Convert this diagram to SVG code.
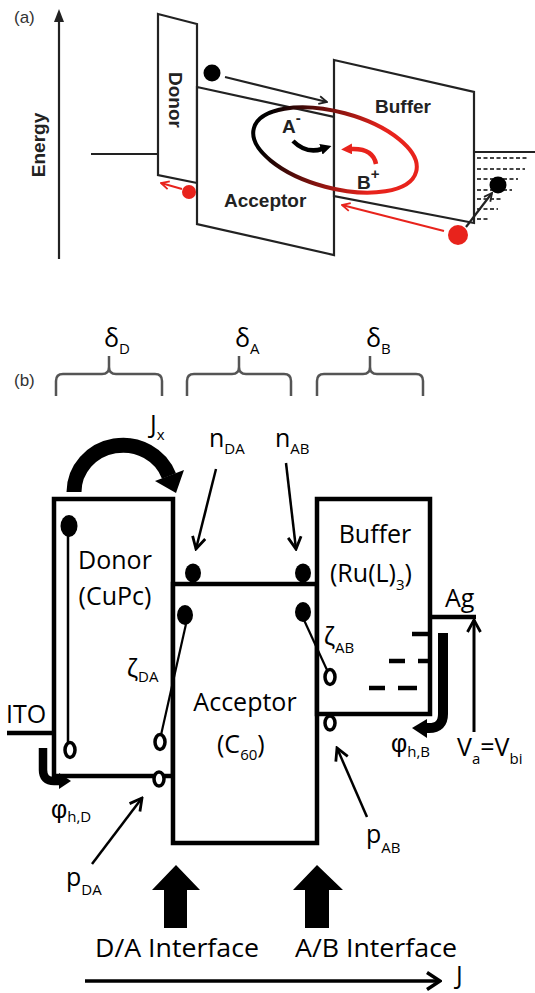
<svg xmlns="http://www.w3.org/2000/svg" width="535" height="993" viewBox="0 0 535 993">
<defs>
<style>
.pl{font-family:"Liberation Sans",Arial,sans-serif;font-size:17px;fill:#333;}
.ab{font-family:"Liberation Sans",Arial,sans-serif;font-weight:bold;font-size:19px;fill:#222;}
.lab{font-family:"Open Sans","Liberation Sans",sans-serif;font-size:25px;fill:#000;}
.gr{font-family:"Liberation Sans","DejaVu Sans",sans-serif;font-size:25px;fill:#000;}
.sub{font-family:"Open Sans","Liberation Sans",sans-serif;font-size:15px;}
.pa{fill:#fff;stroke:#222;stroke-width:2.2;stroke-linejoin:miter;}
.box{fill:#fff;stroke:#000;stroke-width:4.5;}
.thin{stroke:#000;stroke-width:2.5;fill:none;}
.la{stroke:#222;stroke-width:2.2;fill:none;}
.brace{fill:none;stroke:#555;stroke-width:2.5;}
.e{fill:#000;}
.h{fill:#fff;stroke:#000;stroke-width:3.5;}
.dash{stroke:#444;stroke-width:2;stroke-dasharray:4 2.5;}
.bd{stroke:#000;stroke-width:4.5;}
.thick{fill:none;stroke:#000;}
</style>
<linearGradient id="ringGrad" gradientUnits="userSpaceOnUse" x1="262" y1="0" x2="378" y2="0">
<stop offset="0" stop-color="#000"/>
<stop offset="0.45" stop-color="#6e100c"/>
<stop offset="1" stop-color="#e8231c"/>
</linearGradient>
<marker id="vBlk" markerUnits="userSpaceOnUse" viewBox="0 0 16 16" markerWidth="16" markerHeight="16" refX="14" refY="8" orient="auto"><path d="M2,1.5 L14,8 L2,14.5" fill="none" stroke="#000" stroke-width="2.8"/></marker>
<marker id="vJ" markerUnits="userSpaceOnUse" viewBox="0 0 18 20" markerWidth="18" markerHeight="20" refX="16" refY="10" orient="auto"><path d="M3,1.5 L16,10 L3,18.5" fill="none" stroke="#000" stroke-width="3.5"/></marker>
<marker id="vA" markerUnits="userSpaceOnUse" viewBox="0 0 10 10" markerWidth="10" markerHeight="10" refX="9" refY="5" orient="auto"><path d="M1,1 L9,5 L1,9" fill="none" stroke="#222" stroke-width="1.8"/></marker>
<marker id="vR" markerUnits="userSpaceOnUse" viewBox="0 0 10 10" markerWidth="10" markerHeight="10" refX="9" refY="5" orient="auto"><path d="M1,1 L9,5 L1,9" fill="none" stroke="#e8231c" stroke-width="1.8"/></marker>
<marker id="tBlk" markerUnits="userSpaceOnUse" viewBox="0 0 10 10" markerWidth="11" markerHeight="11" refX="1" refY="5" orient="auto"><path d="M0,0 L10,5 L0,10 z" fill="#000"/></marker>
<marker id="tRed" markerUnits="userSpaceOnUse" viewBox="0 0 10 10" markerWidth="11" markerHeight="11" refX="1" refY="5" orient="auto"><path d="M0,0 L10,5 L0,10 z" fill="#e8231c"/></marker>
</defs>
<rect width="535" height="993" fill="#fff"/>

<!-- ===== Panel (a) ===== -->
<text class="pl" x="14" y="23">(a)</text>
<g id="a-energy-axis">
<line x1="59" y1="259" x2="59" y2="20" class="la" stroke-width="2.5"/>
<polygon points="59,9 54,22 64,22" fill="#222"/>
<text class="ab" font-size="18" transform="translate(45,145) rotate(-90)" text-anchor="middle">Energy</text>
</g>
<g id="a-contact-left"><line x1="91" y1="154" x2="158" y2="154" class="la"/></g>
<g id="a-contact-right">
<line x1="474" y1="152" x2="535" y2="152" class="la"/>
<line x1="477" y1="158" x2="528" y2="158" class="dash"/>
<line x1="477" y1="169" x2="525" y2="169" class="dash"/>
<line x1="477" y1="179" x2="518" y2="179" class="dash"/>
<line x1="477" y1="190" x2="512" y2="190" class="dash"/>
<line x1="477" y1="199" x2="503" y2="199" class="dash"/>
<line x1="477" y1="209" x2="498" y2="209" class="dash"/>
<line x1="477" y1="219" x2="490" y2="219" class="dash"/>
</g>
<g id="a-donor">
<polygon class="pa" points="158,14 197,24 197,183 158,175"/>
<text class="ab" transform="translate(169,100) rotate(90)" text-anchor="middle">Donor</text>
</g>
<g id="a-acceptor">
<polygon class="pa" points="197,87 334,117 334,255 197,224"/>
<text class="ab" x="224" y="207">Acceptor</text>
</g>
<g id="a-buffer">
<polygon class="pa" points="334,60 474,92 474,223 334,196"/>
<text class="ab" x="375" y="113" font-size="19.5">Buffer</text>
</g>
<g id="a-carriers">
<circle cx="212" cy="73" r="8.5" fill="#000"/>
<circle cx="189" cy="192" r="7" fill="#e8231c"/>
<circle cx="458" cy="235" r="10" fill="#e8231c"/>
<circle cx="498" cy="185" r="8.5" fill="#000"/>
</g>
<g id="a-exciton">
<ellipse cx="335" cy="150" rx="84" ry="38" transform="rotate(15 335 150)" fill="none" stroke="url(#ringGrad)" stroke-width="4"/>
<text class="ab" font-size="22" x="282" y="133">A<tspan font-size="15" dy="-10">-</tspan></text>
<text class="ab" font-size="22" x="357" y="189" fill="#e8231c">B<tspan font-size="15" dy="-10">+</tspan></text>
</g>
<g id="a-connectors">
<line x1="225" y1="77" x2="327" y2="102" class="la" marker-end="url(#vA)"/>
<path d="M293,141 Q306,154 322,149" fill="none" stroke="#000" stroke-width="4.5" marker-end="url(#tBlk)"/>
<path d="M376,164 Q373,148 351,149" fill="none" stroke="#e8231c" stroke-width="4.5" marker-end="url(#tRed)"/>
<line x1="182" y1="189" x2="161" y2="183" stroke="#e8231c" stroke-width="2" marker-end="url(#vR)"/>
<line x1="444" y1="231" x2="342" y2="205" stroke="#e8231c" stroke-width="2" marker-end="url(#vR)"/>
<line x1="466" y1="227" x2="492" y2="193" class="la" marker-end="url(#vA)"/>
</g>

<!-- ===== Panel (b) ===== -->
<text class="pl" x="14" y="386">(b)</text>
<g id="b-thickness">
<path class="brace" d="M56,396 V381 Q56,374 63,374 H102 Q109,374 109,367 V356 V367 Q109,374 116,374 H155 Q162,374 162,381 V396"/>
<path class="brace" d="M187,396 V381 Q187,374 194,374 H232 Q239,374 239,367 V356 V367 Q239,374 246,374 H284 Q291,374 291,381 V396"/>
<path class="brace" d="M317,396 V381 Q317,374 324,374 H363 Q370,374 370,367 V356 V367 Q370,374 377,374 H416 Q423,374 423,381 V396"/>
<text class="lab" x="104" y="347">δ<tspan class="sub" dy="7">D</tspan></text>
<text class="lab" x="235" y="347">δ<tspan class="sub" dy="7">A</tspan></text>
<text class="lab" x="366" y="347">δ<tspan class="sub" dy="7">B</tspan></text>
</g>
<g id="b-ito">
<line x1="7" y1="733" x2="54" y2="733" class="bd"/>
<text class="lab" font-size="23" x="6" y="723">ITO</text>
</g>
<g id="b-donor">
<rect class="box" x="54" y="499" width="119" height="277"/>
<text class="lab" x="115" y="569" text-anchor="middle">Donor</text>
<text class="lab" x="115" y="605" text-anchor="middle">(CuPc)</text>
</g>
<g id="b-acceptor">
<rect class="box" x="173" y="584" width="144" height="259"/>
<text class="lab" x="245" y="711" text-anchor="middle">Acceptor</text>
<text class="lab" x="217" y="753">(C<tspan class="sub" font-size="17" dy="7">60</tspan><tspan dy="-7">)</tspan></text>
</g>
<g id="b-buffer">
<rect class="box" x="317" y="499" width="113" height="215"/>
<text class="lab" x="375" y="543" text-anchor="middle">Buffer</text>
<text class="lab" x="330" y="582">(Ru(L)<tspan class="sub" font-size="17" dy="8">3</tspan><tspan dy="-8">)</tspan></text>
<line x1="412" y1="634" x2="430" y2="634" class="bd"/>
<line x1="389" y1="661" x2="405" y2="661" class="bd"/>
<line x1="418" y1="661" x2="430" y2="661" class="bd"/>
<line x1="369" y1="688" x2="385" y2="688" class="bd"/>
<line x1="398" y1="688" x2="417" y2="688" class="bd"/>
</g>
<g id="b-ag">
<line x1="430" y1="617" x2="476" y2="617" class="bd"/>
<text class="lab" font-size="23" x="445" y="607">Ag</text>
</g>
<g id="b-carriers">
<ellipse class="e" cx="69" cy="526" rx="8.5" ry="11"/>
<ellipse class="e" cx="193" cy="573" rx="8" ry="9.5"/>
<ellipse class="e" cx="185" cy="615" rx="8" ry="10"/>
<ellipse class="e" cx="303" cy="573" rx="8" ry="9.5"/>
<ellipse class="e" cx="303" cy="612" rx="8" ry="10"/>
<ellipse class="h" cx="70" cy="750" rx="5" ry="7.5"/>
<ellipse class="h" cx="160" cy="742" rx="5" ry="7.5"/>
<ellipse class="h" cx="159" cy="779" rx="5" ry="7"/>
<ellipse class="h" cx="330" cy="677" rx="5" ry="7.5"/>
<ellipse class="h" cx="330" cy="723" rx="5" ry="7"/>
</g>
<g id="b-labels">
<text class="lab" x="150" y="433">J<tspan class="sub" dy="7">x</tspan></text>
<text class="lab" x="209" y="447">n<tspan class="sub" dy="7">DA</tspan></text>
<text class="lab" x="275" y="447">n<tspan class="sub" dy="7">AB</tspan></text>
<text class="gr" x="127" y="677">ζ<tspan class="sub" dy="5">DA</tspan></text>
<text class="gr" x="324" y="645">ζ<tspan class="sub" dy="8">AB</tspan></text>
<text class="gr" x="51" y="818">φ<tspan class="sub" dy="4">h,D</tspan></text>
<text class="gr" x="391" y="752">φ<tspan class="sub" dy="5">h,B</tspan></text>
<text class="lab" x="66" y="886">p<tspan class="sub" dy="9">DA</tspan></text>
<text class="lab" x="366" y="843">p<tspan class="sub" dy="10">AB</tspan></text>
<text class="lab" x="457" y="756">V<tspan class="sub" dy="8">a</tspan><tspan dy="-8">=V</tspan><tspan class="sub" dy="8">bi</tspan></text>
<text class="lab" font-size="26" x="95" y="957" textLength="164" lengthAdjust="spacingAndGlyphs">D/A Interface</text>
<text class="lab" font-size="26" x="295" y="957" textLength="162" lengthAdjust="spacingAndGlyphs">A/B Interface</text>
<text class="lab" x="456" y="984">J</text>
</g>
<g id="b-connectors">
<line x1="68" y1="536" x2="68" y2="743" stroke="#000" stroke-width="2.5"/>
<line x1="186" y1="624" x2="161" y2="735" stroke="#000" stroke-width="2.2"/>
<line x1="304" y1="620" x2="327" y2="670" stroke="#000" stroke-width="2.2"/>
<path d="M74,492 A49,47 0 0 1 169,476" class="thick" stroke-width="15"/>
<polygon points="155,481 184,470 176,493" fill="#000"/>
<line x1="216" y1="469" x2="196" y2="549" class="thin" marker-end="url(#vBlk)"/>
<line x1="286" y1="463" x2="296" y2="549" class="thin" marker-end="url(#vBlk)"/>
<line x1="92" y1="864" x2="142" y2="798" class="thin" marker-end="url(#vBlk)"/>
<line x1="367" y1="817" x2="337" y2="748" class="thin" marker-end="url(#vBlk)"/>
<path d="M43,748 V770 Q43,781 54,781 H60" class="thick" stroke-width="8.5"/>
<polygon points="71,781 59,773 59,789" fill="#000"/>
<path d="M443,633 V714 Q443,728 429,728 H426" class="thick" stroke-width="10"/>
<polygon points="412,728 427,719 427,738" fill="#000"/>
<line x1="474" y1="732" x2="474" y2="620" stroke="#000" stroke-width="3" marker-end="url(#vBlk)"/>
<polygon points="176,865 152,890 164,890 164,928 187,928 187,890 200,890" fill="#000"/>
<polygon points="317,865 293,890 305,890 305,928 329,928 329,890 343,890" fill="#000"/>
<line x1="85" y1="981" x2="440" y2="981" stroke="#000" stroke-width="3.5" marker-end="url(#vJ)"/>
</g>
</svg>
